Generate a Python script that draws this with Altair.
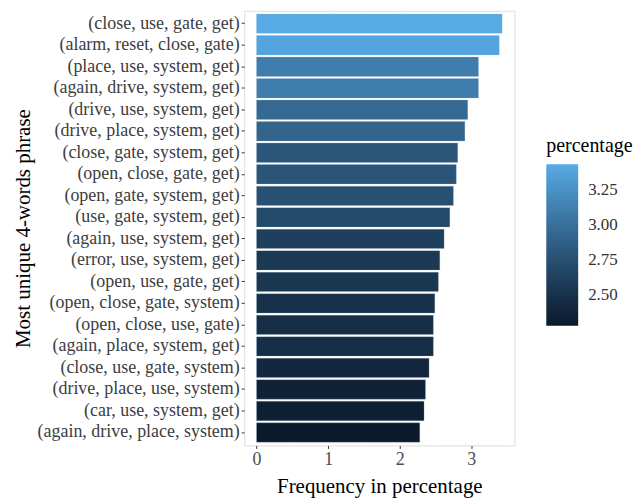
import altair as alt
import pandas as pd

phrases = [
    "(close, use, gate, get)",
    "(alarm, reset, close, gate)",
    "(place, use, system, get)",
    "(again, drive, system, get)",
    "(drive, use, system, get)",
    "(drive, place, system, get)",
    "(close, gate, system, get)",
    "(open, close, gate, get)",
    "(open, gate, system, get)",
    "(use, gate, system, get)",
    "(again, use, system, get)",
    "(error, use, system, get)",
    "(open, use, gate, get)",
    "(open, close, gate, system)",
    "(open, close, use, gate)",
    "(again, place, system, get)",
    "(close, use, gate, system)",
    "(drive, place, use, system)",
    "(car, use, system, get)",
    "(again, drive, place, system)",
]
percentages = [3.43, 3.39, 3.10, 3.10, 2.95, 2.91, 2.81, 2.79, 2.75, 2.70,
               2.62, 2.56, 2.54, 2.49, 2.47, 2.47, 2.41, 2.36, 2.34, 2.28]
x_ticks = [0, 0.5, 1, 1.5, 2, 2.5, 3, 3.5]
legend_ticks = [2.5, 2.75, 3.0, 3.25]

df = pd.DataFrame({"phrase": phrases, "percentage": percentages})

FONT = "Liberation Serif"

chart = alt.Chart(df).mark_bar(stroke="#9ab4c9", strokeWidth=0.4, strokeOpacity=0.6).encode(
    x=alt.X(
        "percentage:Q",
        title="Frequency in percentage",
        scale=alt.Scale(domain=[-0.1715, 3.6015], nice=False, zero=False),
        axis=alt.Axis(
            values=x_ticks,
            labelExpr="datum.value % 1 === 0 ? format(datum.value, 'd') : ''",
            grid=True,
            gridColor="white",
            gridWidth={"condition": {"test": "datum.value % 1 === 0", "value": 1.2}, "value": 0.6},
            tickOpacity={"condition": {"test": "datum.value % 1 === 0", "value": 1}, "value": 0},
            domain=False,
            tickColor="#333333",
            tickSize=3,
            labelPadding=2,
            labelFont=FONT,
            labelFontSize=18,
            labelColor="#4d4d4d",
            titleFont=FONT,
            titleFontSize=21,
            titleFontWeight="normal",
            titleColor="black",
            titlePadding=7,
        ),
    ),
    y=alt.Y(
        "phrase:N",
        sort=phrases,
        title="Most unique 4-words phrase",
        scale=alt.Scale(paddingInner=0.1, paddingOuter=0.15),
        axis=alt.Axis(
            grid=True,
            gridColor="white",
            gridWidth=1.2,
            bandPosition=0.5,
            domain=False,
            tickColor="#333333",
            tickSize=3,
            labelPadding=2,
            labelLimit=400,
            labelFont=FONT,
            labelFontSize=18,
            labelColor="#3d3d3d",
            titleFont=FONT,
            titleFontSize=21,
            titleFontWeight="normal",
            titleColor="black",
            titlePadding=11,
        ),
    ),
    color=alt.Color(
        "percentage:Q",
        scale=alt.Scale(range=["#0b1a2c", "#57aae6"], interpolate="lab",
                        domain=[min(percentages), max(percentages)], nice=False, zero=False),
        legend=alt.Legend(
            title="percentage",
            values=legend_ticks,
            format=".2f",
            orient="none",
            legendX=303,
            legendY=126,
            gradientLength=162,
            gradientThickness=32,
            gradientStrokeWidth=0,
            titleFont=FONT,
            titleFontSize=20,
            titleFontWeight="normal",
            titleColor="black",
            titlePadding=8,
            labelFont=FONT,
            labelFontSize=17,
            labelColor="#333333",
            labelOffset=10,
        ),
    ),
).properties(
    width=271,
    height=436,
    padding={"left": 5, "top": 2, "right": 0, "bottom": 3},
).configure_view(
    fill="#EBEBEB",
    strokeWidth=0,
    stroke="transparent",
).configure(
    background="white",
)

chart.save("out.html", embed_options={"renderer": "svg", "actions": False})
